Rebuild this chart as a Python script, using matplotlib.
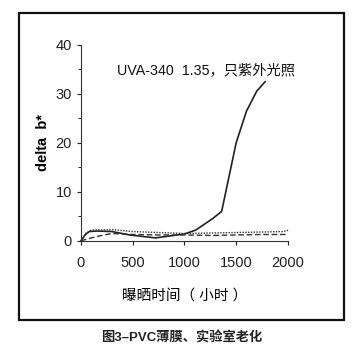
import matplotlib
matplotlib.use('Agg')
import matplotlib.pyplot as plt
from matplotlib.patches import Rectangle
from matplotlib.ticker import MultipleLocator

plt.rcParams['font.family'] = ['Liberation Sans', 'Noto Sans CJK SC', 'DejaVu Sans']

# --- data ---
hours_solid = [0, 40, 80, 150, 300, 470, 720, 1000, 1110, 1270, 1360, 1500, 1600, 1700, 1780]
db_solid = [0, 1.2, 1.9, 2.0, 1.9, 1.2, 0.6, 1.4, 2.2, 4.5, 6.0, 20.0, 26.5, 30.6, 32.5]

hours_dotted = [0, 50, 100, 300, 500, 750, 1000, 1250, 1500, 1750, 1950, 2010]
db_dotted = [0, 1.6, 2.2, 2.3, 1.9, 1.7, 1.5, 1.6, 1.7, 1.8, 1.9, 2.2]

hours_dashed = [0, 100, 200, 300, 500, 750, 1000, 1250, 1500, 1750, 2000]
db_dashed = [0, 0.6, 1.1, 1.5, 1.3, 1.2, 1.2, 1.1, 1.2, 1.3, 1.3]

x_ticks = [0, 500, 1000, 1500, 2000]
y_ticks = [0, 10, 20, 30, 40]

fig = plt.figure(figsize=(3.63, 3.6), dpi=100)
ax = fig.add_axes([0.223, 0.331, 0.57, 0.544])

ax.plot(hours_solid, db_solid, color='#222222', lw=1.2, clip_on=False)
ax.plot(hours_dotted, db_dotted, color='#333333', lw=1.0, linestyle=(0, (1, 1)), clip_on=False)
ax.plot(hours_dashed, db_dashed, color='#333333', lw=1.0, linestyle=(0, (4, 2)), clip_on=False)

ax.set_xlim(0, 2000)
ax.set_ylim(0, 40)
ax.set_xticks(x_ticks)
ax.set_yticks(y_ticks)
ax.yaxis.set_minor_locator(MultipleLocator(5))
for s in ['top', 'right']:
    ax.spines[s].set_visible(False)
for s in ['left', 'bottom']:
    ax.spines[s].set_linewidth(0.8)
    ax.spines[s].set_color('#333333')
ax.tick_params(axis='both', labelsize=10.5, colors='#222222', length=3, width=0.8)
ax.tick_params(axis='y', which='minor', length=2, width=0.6)
ax.tick_params(axis='x', pad=8)

ax.set_ylabel('delta  b*', fontsize=10.5, fontweight='bold', labelpad=4)
ax.set_xlabel('曝晒时间（ 小时 ）', fontsize=10.5, labelpad=14)

ax.text(0.175, 0.87, 'UVA-340  1.35，只紫外光照', transform=ax.transAxes,
        fontsize=10.3, color='#111111', ha='left', va='center')

# outer frame around the chart
fig.patches.append(Rectangle((0.052, 0.111), 0.896, 0.853, transform=fig.transFigure,
                             fill=False, lw=1.6, edgecolor='#111111'))

fig.text(0.5, 0.06, '图3–PVC薄膜、实验室老化', ha='center', va='center',
         fontsize=9.5, fontweight='bold', color='#222222')

plt.savefig('out.png', dpi=100)
